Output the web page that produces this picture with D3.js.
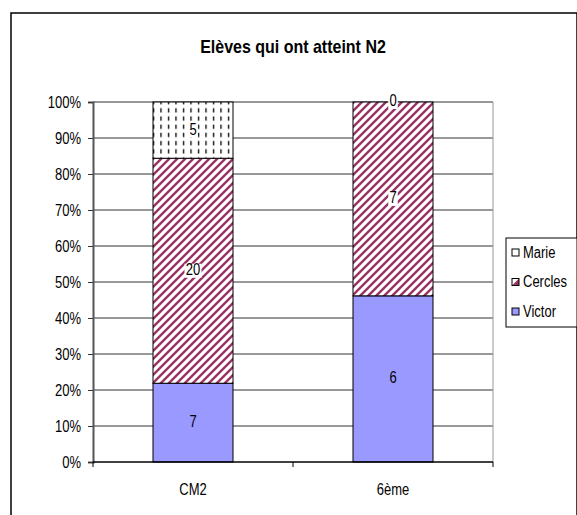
<!DOCTYPE html>
<html><head><meta charset="utf-8">
<script src="https://cdn.jsdelivr.net/npm/d3@7"></script>
<style>body{margin:0;background:#fff}svg{display:block}text{font-family:"Liberation Sans",Arial,sans-serif}</style>
</head><body><svg id="c" width="577" height="515"></svg>
<script>
const categories = ["CM2", "6ème"];
const seriesNames = ["Victor", "Cercles", "Marie"];
const victor = [7, 6];
const cercles = [20, 7];
const marie = [5, 0];
const yTicks = [0, 0.1, 0.2, 0.3, 0.4, 0.5, 0.6, 0.7, 0.8, 0.9, 1];
const title = "Elèves qui ont atteint N2";

(function(){
const SY = 1.2;
const svg = d3.select("#c");
function txt(parent, x, y, s, size, anchor){
  return parent.append("text").attr("transform",`translate(${x},${y}) scale(1,${SY})`)
    .attr("dy","0.35em").attr("text-anchor",anchor||"middle").attr("font-size",size).attr("fill","#000").text(s);
}
const defs = svg.append("defs");
const hatch = defs.append("pattern").attr("id","hatch").attr("patternUnits","userSpaceOnUse").attr("width",8).attr("height",8);
hatch.append("rect").attr("width",8).attr("height",8).attr("fill","#fff");
hatch.append("path").attr("d","M-2,2 L2,-2 M0,8 L8,0 M6,10 L10,6").attr("stroke","#993366").attr("stroke-width",2.4);
const dots = defs.append("pattern").attr("id","dash").attr("patternUnits","userSpaceOnUse").attr("width",7.5).attr("height",8.2);
dots.append("rect").attr("width",7.5).attr("height",8.2).attr("fill","#fff");
dots.append("path").attr("d","M3.5,1.5 V6").attr("stroke","#000").attr("stroke-width",1.3);
const fills = {Victor:"#9999FF", Cercles:"url(#hatch)", Marie:"url(#dash)"};
const swatch = {Victor:"#9999FF", Cercles:"#993366", Marie:"#fff"};

svg.append("rect").attr("x",11).attr("y",13).attr("width",566).attr("height",520).attr("fill","none").attr("stroke","#000").attr("stroke-width",1.5);

txt(svg, 293, 46, title, 16).attr("font-weight","bold");

const pL=93, pR=493, pT=102, pB=462;
const x = d3.scaleBand().domain(categories).range([pL,pR]).paddingInner(0.6).paddingOuter(0.3);
const xb = d3.scaleBand().domain(categories).range([pL,pR]);
const y = d3.scaleLinear().domain([0,1]).range([pB,pT]);

svg.append("g").selectAll("line").data(yTicks.slice(1)).join("line")
  .attr("x1",pL).attr("x2",pR).attr("y1",d=>y(d)).attr("y2",d=>y(d)).attr("stroke","#333").attr("stroke-width",1);
svg.append("line").attr("x1",pR).attr("x2",pR).attr("y1",pT).attr("y2",pB).attr("stroke","#999");

const ya = svg.append("g").attr("transform",`translate(${pL},0)`)
  .call(d3.axisLeft(y).tickValues(yTicks).tickFormat(d3.format(".0%")).tickSize(5).tickPadding(7));
ya.select(".domain").attr("stroke","#555").attr("stroke-width",2);
ya.attr("font-family",null);
ya.selectAll("text").attr("font-size",13).attr("fill","#000").attr("transform",`scale(1,${SY})`);
ya.selectAll(".tick line").attr("stroke","#333");

const data = categories.map((c,i)=>({cat:c, Victor:victor[i], Cercles:cercles[i], Marie:marie[i]}));
const stack = d3.stack().keys(seriesNames).offset(d3.stackOffsetExpand);
const layers = stack(data);

layers.forEach(layer=>{
  svg.append("g").selectAll("rect").data(layer).join("rect")
    .attr("x",d=>x(d.data.cat)).attr("width",x.bandwidth())
    .attr("y",d=>y(d[1])).attr("height",d=>y(d[0])-y(d[1]))
    .attr("fill",fills[layer.key]).attr("stroke","#000").attr("stroke-width",1);
});

const xa = svg.append("g").attr("transform",`translate(0,${pB})`);
xa.append("line").attr("x1",pL).attr("x2",pR).attr("stroke","#000").attr("stroke-width",1.5);
xa.selectAll("line.t").data([pL, xb.step()+pL, pR]).join("line").attr("class","t")
  .attr("x1",d=>d).attr("x2",d=>d).attr("y1",0).attr("y2",5).attr("stroke","#000");
categories.forEach(c=>txt(xa, x(c)+x.bandwidth()/2, 28, c, 13));

layers.forEach(layer=>{
  const g = svg.append("g");
  layer.forEach(d=>{
    const v = d.data[layer.key];
    const cx = x(d.data.cat)+x.bandwidth()/2;
    const cy = (y(d[0])+y(d[1]))/2;
    if(layer.key!=="Victor"){
      const w = String(v).length*7.5+2;
      g.append("rect").attr("x",cx-w/2).attr("y",cy-7).attr("width",w).attr("height",14).attr("fill","#fff");
    }
    txt(g, cx, cy-1, v, 13);
  });
});

const lg = svg.append("g");
lg.append("rect").attr("x",506).attr("y",238).attr("width",71).attr("height",89).attr("fill","#fff").attr("stroke","#000");
const order = ["Marie","Cercles","Victor"];
order.forEach((k,i)=>{
  const yy = 253 + i*29.5;
  if(k==="Cercles"){
    lg.append("path").attr("d",`M512,${yy-4} h7 v7 h-7 z`).attr("fill","#fff");
    lg.append("path").attr("d",`M512,${yy+3} L519,${yy-4} L519,${yy+3} Z`).attr("fill","#993366");
    lg.append("rect").attr("x",512).attr("y",yy-4).attr("width",7).attr("height",7).attr("fill","none").attr("stroke","#000");
  } else {
    lg.append("rect").attr("x",512).attr("y",yy-4).attr("width",7).attr("height",7).attr("fill",swatch[k]).attr("stroke","#000");
  }
  txt(lg, 523, yy-0.5, k, 13, "start");
});
})();
</script></body></html>
